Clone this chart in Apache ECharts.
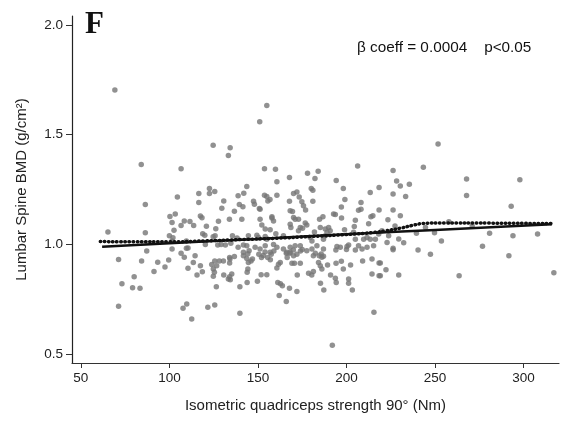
<!DOCTYPE html>
<html>
<head>
<meta charset="utf-8">
<script src="https://cdn.jsdelivr.net/npm/echarts@6/dist/echarts.min.js"></script>
<style>html,body{margin:0;padding:0;background:#fff;}#c{width:566px;height:421px;}</style>
</head>
<body>
<div id="c"></div>
<script>
// Scatter observations: [strength (Nm), lumbar spine BMD (g/cm2)]
const points = [
[69.2,1.703],[124.7,1.451],[134.3,1.440],[133.3,1.405],[84.1,1.364],[106.6,1.344],[122.6,1.255],[125.6,1.241],
[122.6,1.232],[116.6,1.232],[104.5,1.216],[130.7,1.198],[116.6,1.191],[86.4,1.182],[129.6,1.165],[103.3,1.138],
[100.3,1.127],[117.5,1.129],[118.4,1.121],[138.8,1.221],[142.0,1.233],[139.5,1.182],[141.5,1.171],[136.7,1.151],
[140.9,1.115],[133.9,1.115],[127.7,1.106],[126.2,1.071],[120.9,1.083],[101.5,1.100],[108.4,1.107],[111.6,1.104],
[113.7,1.086],[106.6,1.086],[102.6,1.064],[100.0,1.039],[102.0,1.030],[118.8,1.048],[120.0,1.042],[124.7,1.035],
[125.8,1.039],[135.6,1.039],[138.2,1.029],[65.3,1.057],[86.4,1.053],[109.6,1.015],[101.5,1.015],[87.2,0.970],
[101.5,0.979],[109.6,0.982],[106.6,0.960],[114.5,0.948],[108.4,0.942],[127.3,0.997],[129.2,1.000],[131.6,0.997],
[134.7,1.005],[138.8,0.987],[141.8,0.997],[134.0,0.940],[136.7,0.945],[141.8,0.948],
[71.3,0.931],[84.3,0.924],[93.4,0.919],[99.6,0.929],[97.5,0.897],[91.3,0.877],[80.1,0.853],[73.2,0.821],
[79.2,0.803],[83.4,0.800],[71.3,0.718],[109.8,0.729],[107.7,0.709],[112.6,0.660],[121.7,0.714],[125.6,0.724],
[110.5,0.891],[113.5,0.918],[115.6,0.861],[118.6,0.876],[117.5,0.903],[125.6,0.925],[126.7,0.903],[124.8,0.888],
[128.2,0.924],[130.5,0.924],[124.8,0.855],[126.5,0.807],[130.7,0.861],[133.3,0.842],[120.3,1.000],[110.5,0.984],
[123.9,0.909],[125.4,0.873],[134.4,0.839],[135.2,0.865],[134.0,0.853],[134.0,0.915],[134.2,0.933],[139.8,0.807],
[139.8,0.686],[143.9,0.827],[143.9,0.873],[144.3,0.888],[144.6,0.918],[143.7,0.936],[144.3,0.957],[145.0,0.971],
[146.1,0.925],[146.9,0.933],[149.7,0.832],[151.8,0.862],[155.0,0.862],[150.5,0.955],[152.0,0.940],[153.0,0.950],
[154.0,0.965],[155.5,0.940],[157.0,0.930],[157.5,0.955],[159.0,0.970],[166.0,0.960],[166.5,0.940],[168.0,0.960],
[170.0,0.975],[172.0,0.955],[174.0,0.970],[175.0,0.977],[160.7,0.893],[161.6,0.910],[162.6,0.918],[161.2,0.827],
[162.7,0.821],[163.8,0.812],[162.0,0.767],[166.0,0.740],[167.8,0.800],[172.0,0.786],[172.2,0.861],[169.2,0.914],
[170.6,0.914],[173.9,0.914],[168.2,0.964],[170.1,0.948],[178.6,0.869],[180.4,0.861],[181.3,0.877],[182.4,0.960],
[184.6,0.948],[186.1,0.941],[185.7,0.956],[187.0,0.946],[184.2,0.918],[185.2,0.903],[186.1,0.888],[185.3,0.823],
[187.2,0.792],[189.3,0.906],[191.0,0.861],[193.7,0.846],[194.2,0.827],[194.1,0.914],[197.1,0.923],[198.2,0.888],
[201.2,0.842],[201.2,0.823],[202.3,0.906],[203.3,0.792],[209.1,0.925],[214.4,0.933],[218.4,0.915],[222.3,0.885],
[214.4,0.865],[218.4,0.857],[215.5,0.691],[226.3,0.976],[194.0,0.975],[200.0,0.977],[205.0,0.974],
[153.7,1.345],[159.9,1.342],[143.7,1.264],[147.5,1.197],[148.0,1.183],[153.7,1.224],[155.0,1.218],[155.6,1.198],
[160.7,1.285],[160.7,1.224],[167.8,1.305],[170.1,1.232],[172.0,1.239],[167.8,1.197],[173.3,1.216],[174.8,1.194],
[175.7,1.176],[176.9,1.157],[178.0,1.324],[184.0,1.333],[182.2,1.300],[180.1,1.255],[181.0,1.247],[181.0,1.197],
[194.2,1.291],[206.3,1.357],[198.2,1.255],[199.1,1.205],[208.2,1.191],[213.4,1.236],[218.4,1.259],[206.8,1.155],
[208.2,1.160],[218.4,1.157],[192.7,1.138],[193.7,1.136],[184.8,1.114],[186.7,1.126],[197.2,1.120],[213.8,1.126],
[214.9,1.130],[223.4,1.112],[205.0,1.110],[212.5,1.094],[204.4,1.082],[198.9,1.067],[168.2,1.153],[169.5,1.150],
[170.1,1.123],[171.0,1.115],[172.9,1.115],[176.7,1.097],[177.6,1.088],[173.9,1.077],[172.9,1.062],[175.2,1.073],
[168.2,1.092],[168.6,1.077],[157.9,1.120],[158.8,1.107],[151.2,1.115],[152.2,1.088],[154.1,1.070],[156.9,1.067],
[160.1,1.048],[151.2,1.160],[144.6,1.039],[149.4,1.042],[150.3,1.032],[154.1,1.036],[155.0,1.024],[164.4,1.039],
[185.2,1.077],[188.0,1.070],[189.9,1.077],[190.8,1.062],[189.0,1.055],[181.9,1.057],[179.5,1.032],[180.5,1.016],
[188.0,1.039],[187.0,1.024],[204.0,1.055],[205.0,1.024],[209.7,1.024],[211.6,1.032],[213.4,1.024],[216.3,1.024],
[218.2,1.047],[220.0,1.062],[194.6,0.991],[196.5,0.987],[200.3,0.991],[201.2,0.997],[183.3,0.994],[187.0,0.979],
[177.6,0.971],[180.5,0.979],[181.3,0.948],[173.9,0.994],[171.0,0.994],[168.2,0.987],[166.3,0.964],[164.4,0.979],
[158.8,1.000],[160.7,0.987],[156.9,0.964],[154.1,0.994],[151.2,0.979],[148.4,0.987],[143.7,0.994],[141.8,0.964],
[206.8,0.994],[208.8,0.979],[211.6,0.987],[215.3,0.994],[222.9,1.009],[223.8,1.039],
[155.0,1.633],[151.0,1.559],[197.1,1.170],[150.8,1.163],[156.8,1.205],[157.9,1.126],
[251.7,1.457],[243.4,1.351],[226.3,1.336],[267.8,1.298],[297.9,1.294],[228.3,1.289],[230.4,1.266],[235.5,1.274],
[226.3,1.230],[233.4,1.218],[267.8,1.223],[293.0,1.174],[226.3,1.157],[230.4,1.130],
[227.4,1.084],[229.5,1.025],[232.3,1.007],[226.3,0.983],[239.5,1.051],[244.6,1.077],[249.7,1.053],[253.6,1.015],
[240.4,0.974],[247.4,0.955],[257.8,1.103],[271.0,1.084],[280.8,1.051],[276.8,0.992],[294.0,1.039],[291.7,0.948],
[307.9,1.047],[219.1,0.915],[219.1,0.857],[229.5,0.861],[263.6,0.857],[317.1,0.871],[192.0,0.541]
];

// Linear fit (solid line)
const fitLine = [[62,0.989],[100,1.005],[150,1.025],[200,1.046],[250,1.066],[290,1.082],[316,1.092]];
// Smoothed (LOWESS-like) curve (dotted line)
const smoothLine = [[61,1.013],[80,1.012],[100,1.012],[120,1.016],[140,1.022],[160,1.028],[180,1.036],[200,1.045],
  [215,1.054],[222,1.062],[230,1.073],[237,1.086],[243,1.095],[255,1.098],[280,1.097],[316,1.095]];

const xTicks = [50,100,150,200,250,300];
const yTicks = [0.5,1.0,1.5,2.0];

const FONT = 'Liberation Sans, Arial, Helvetica, sans-serif';
const chart = echarts.init(document.getElementById('c'), null, {renderer:'canvas'});
chart.setOption({
  animation:false,
  backgroundColor:'#fff',
  grid:{left:72,right:7,top:16,bottom:58,containLabel:false},
  xAxis:{
    type:'value',min:45,max:320,
    name:'Isometric quadriceps strength 90\u00B0 (Nm)',
    nameLocation:'middle',nameGap:35,
    nameTextStyle:{fontFamily:FONT,fontSize:15,color:'#222'},
    axisLine:{show:true,lineStyle:{color:'#333',width:1.2}},
    axisTick:{show:true,length:5,customValues:xTicks,lineStyle:{color:'#333'}},
    axisLabel:{customValues:xTicks,margin:8,fontFamily:FONT,fontSize:13.5,color:'#222'},
    splitLine:{show:false}
  },
  yAxis:{
    type:'value',min:0.46,max:2.04,
    name:'Lumbar Spine BMD (g/cm\u00B2)',
    nameLocation:'middle',nameGap:43,nameRotate:90,
    nameTextStyle:{fontFamily:FONT,fontSize:15,color:'#222'},
    axisLine:{show:true,lineStyle:{color:'#222',width:1.2}},
    axisTick:{show:true,length:6,customValues:yTicks,lineStyle:{color:'#333'}},
    axisLabel:{customValues:yTicks,margin:9,fontFamily:FONT,fontSize:13.5,color:'#222',
      formatter:function(v){return v.toFixed(1);}},
    splitLine:{show:false}
  },
  series:[
    {type:'scatter',data:points,symbolSize:5.5,itemStyle:{color:'#767676'},z:2},
    {type:'line',data:fitLine,showSymbol:false,smooth:true,lineStyle:{color:'#111',width:2.5},z:3},
    {type:'line',data:smoothLine,showSymbol:false,smooth:true,
      lineStyle:{color:'#111',width:3.5,type:[0.5,3.6],cap:'round'},z:4}
  ],
  graphic:[
    {type:'text',left:85,top:9,style:{text:'F',font:'bold 31px "Liberation Serif", "Times New Roman", serif',fill:'#111'}},
    {type:'text',left:357,top:40,style:{text:'\u03B2 coeff = 0.0004    p<0.05',font:'15.3px "Liberation Sans", Arial, sans-serif',fill:'#111'}}
  ]
});
</script>
</body>
</html>
